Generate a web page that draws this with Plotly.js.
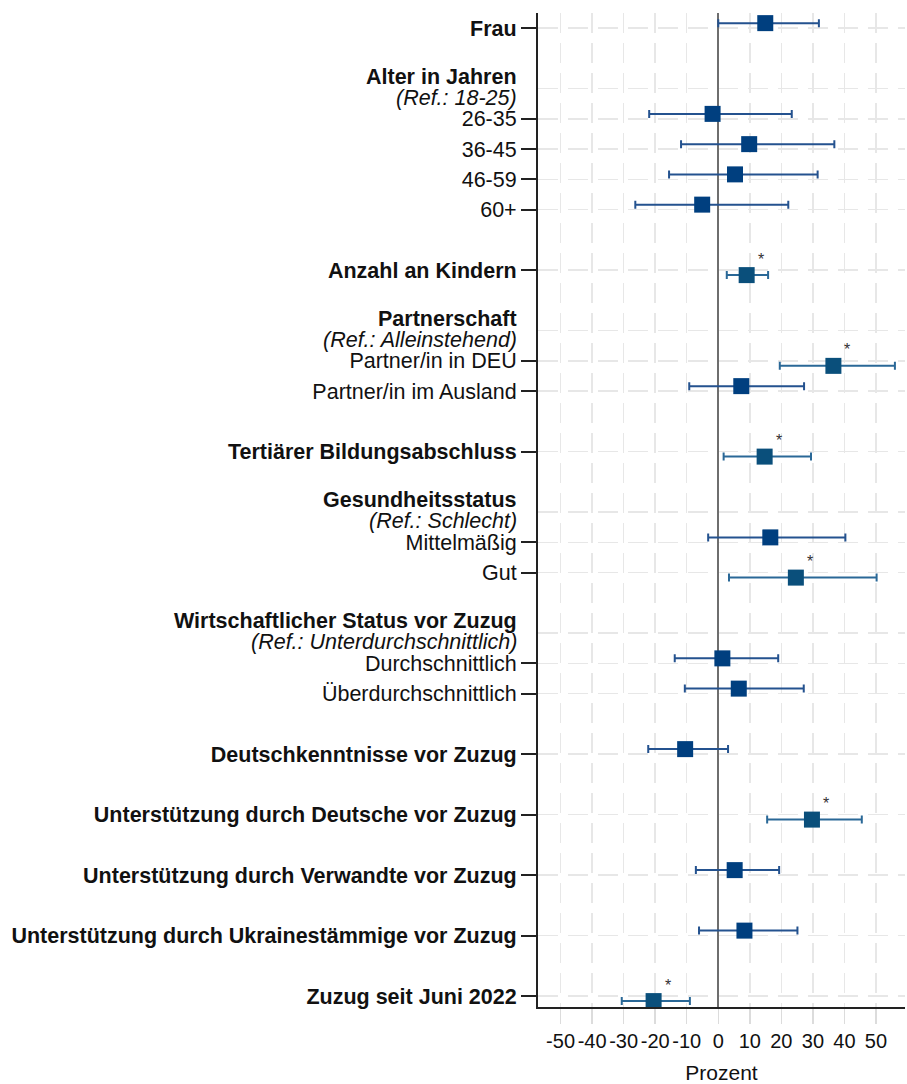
<!DOCTYPE html>
<html>
<head>
<meta charset="utf-8">
<script src="https://cdn.plot.ly/plotly-3.0.1.min.js"></script>
<style>html,body{margin:0;padding:0;background:#fff;}</style>
</head>
<body>
<div id="chart" style="width:907px;height:1084px;"></div>
<script>
// ---- data ----
const labels = ['Frau','26-35','36-45','46-59','60+','Anzahl an Kindern','Partner/in in DEU','Partner/in im Ausland',
  'Tertiärer Bildungsabschluss','Mittelmäßig','Gut','Durchschnittlich','Überdurchschnittlich',
  'Deutschkenntnisse vor Zuzug','Unterstützung durch Deutsche vor Zuzug','Unterstützung durch Verwandte vor Zuzug',
  'Unterstützung durch Ukrainestämmige vor Zuzug','Zuzug seit Juni 2022'];
const rows = [0,3,4,5,6,8,11,12,14,17,18,21,22,24,26,28,30,32];
const boldLabel = [1,0,0,0,0,1,0,0,1,0,0,0,0,1,1,1,1,1];
const est = [14.9,-1.8,9.8,5.3,-5.1,9.0,36.5,7.3,14.7,16.5,24.6,1.3,6.5,-10.5,29.7,5.2,8.3,-20.5];
const lo  = [0.0,-21.9,-11.8,-15.6,-26.3,2.7,19.5,-9.2,1.7,-3.2,3.4,-13.8,-10.6,-22.2,15.5,-7.1,-6.1,-30.6];
const hi  = [31.9,23.3,36.8,31.5,22.2,15.8,56.0,27.2,29.4,40.3,50.2,19.0,27.1,3.1,45.5,19.3,25.1,-9.0];
const sig = [0,0,0,0,0,1,1,0,1,0,1,0,0,0,1,0,0,1];
const headers = ['Alter in Jahren','Partnerschaft','Gesundheitsstatus','Wirtschaftlicher Status vor Zuzug'];
const refs = ['(Ref.: 18-25)','(Ref.: Alleinstehend)','(Ref.: Schlecht)','(Ref.: Unterdurchschnittlich)'];
const headerRows = [2,10,16,20];
const xTicks = [-50,-40,-30,-20,-10,0,10,20,30,40,50];
const xTitle = 'Prozent';

// ---- build ----
const FONT = 'Liberation Sans, Arial, Helvetica, sans-serif';
const LSIZE = 21.5;
const OFF = 0.165;
function group(flag, markerColor, barColor) {
  const idx = est.map((_, i) => i).filter(i => sig[i] === flag);
  return {
    type: 'scatter', mode: 'markers',
    x: idx.map(i => est[i]),
    y: idx.map(i => rows[i] + (flag ? OFF : -OFF)),
    marker: {symbol: 'square', size: 16, color: markerColor, line: {width: 0}},
    error_x: {type: 'data', symmetric: false,
      array: idx.map(i => hi[i] - est[i]),
      arrayminus: idx.map(i => est[i] - lo[i]),
      color: barColor, thickness: 2, width: 4},
    hoverinfo: 'x', showlegend: false
  };
}
const traces = [group(0, '#003f7f', '#24528f'), group(1, '#0a4f7b', '#2a6897')];

const gridStyle = {showgrid: true, gridcolor: '#e7e7e7', gridwidth: 1.5, griddash: '20px,10px'};
const annotations = [];
headers.forEach((h, k) => {
  annotations.push({xref: 'paper', x: 0, xanchor: 'right', xshift: -20, yref: 'y', y: headerRows[k] - 0.40,
    text: '<b>' + h + '</b>', showarrow: false, borderpad: 0, font: {family: FONT, size: LSIZE, color: '#111'}});
  annotations.push({xref: 'paper', x: 0, xanchor: 'right', xshift: -20, yref: 'y', y: headerRows[k] + 0.31,
    text: '<i>' + refs[k] + '</i>', showarrow: false, borderpad: 0, font: {family: FONT, size: LSIZE, color: '#111'}});
});
est.forEach((v, i) => {
  if (sig[i]) annotations.push({xref: 'x', yref: 'y', x: v, y: rows[i] + OFF, text: '*', showarrow: false,
    xshift: 14, yshift: 16, font: {family: FONT, size: 16, color: '#333'}});
});

const layout = {
  width: 907, height: 1084,
  margin: {l: 538, r: 2, t: 13, b: 77},
  paper_bgcolor: '#fff', plot_bgcolor: '#fff',
  font: {family: FONT, size: 21, color: '#111'},
  xaxis: Object.assign({
    range: [-57.15, 59.2], tickmode: 'array', tickvals: xTicks, ticktext: xTicks.map(String),
    tickangle: 0,
    ticks: 'outside', ticklen: 15, tickwidth: 1.5, tickcolor: '#dcdcdc',
    zeroline: true, zerolinecolor: '#6e6e6e', zerolinewidth: 1.8,
    showline: true, linecolor: '#222', linewidth: 2,
    tickfont: {family: FONT, size: 20, color: '#111'},
    title: {text: xTitle, font: {family: FONT, size: 21, color: '#111'}, standoff: 16}
  }, gridStyle),
  yaxis: Object.assign({
    range: [32.36, -0.5], tickmode: 'array', tickvals: rows,
    ticktext: labels.map((l, i) => boldLabel[i] ? '<b>' + l + '</b>' : l),
    ticks: 'outside', ticklen: 15, tickwidth: 2, tickcolor: '#222',
    zeroline: false, showline: true, linecolor: '#222', linewidth: 2,
    tickfont: {family: FONT, size: LSIZE, color: '#111'}
  }, gridStyle),
  yaxis2: Object.assign({
    overlaying: 'y', range: [32.36, -0.5], tickmode: 'array', tickvals: headerRows,
    showticklabels: false, ticks: '', zeroline: false, showline: false
  }, gridStyle),
  annotations: annotations
};

// invisible trace to activate yaxis2 grid
traces.unshift({type: 'scatter', mode: 'markers', x: [], y: [], yaxis: 'y2', showlegend: false, hoverinfo: 'skip'});

Plotly.newPlot('chart', traces, layout, {displayModeBar: false, staticPlot: true});
</script>
</body>
</html>
